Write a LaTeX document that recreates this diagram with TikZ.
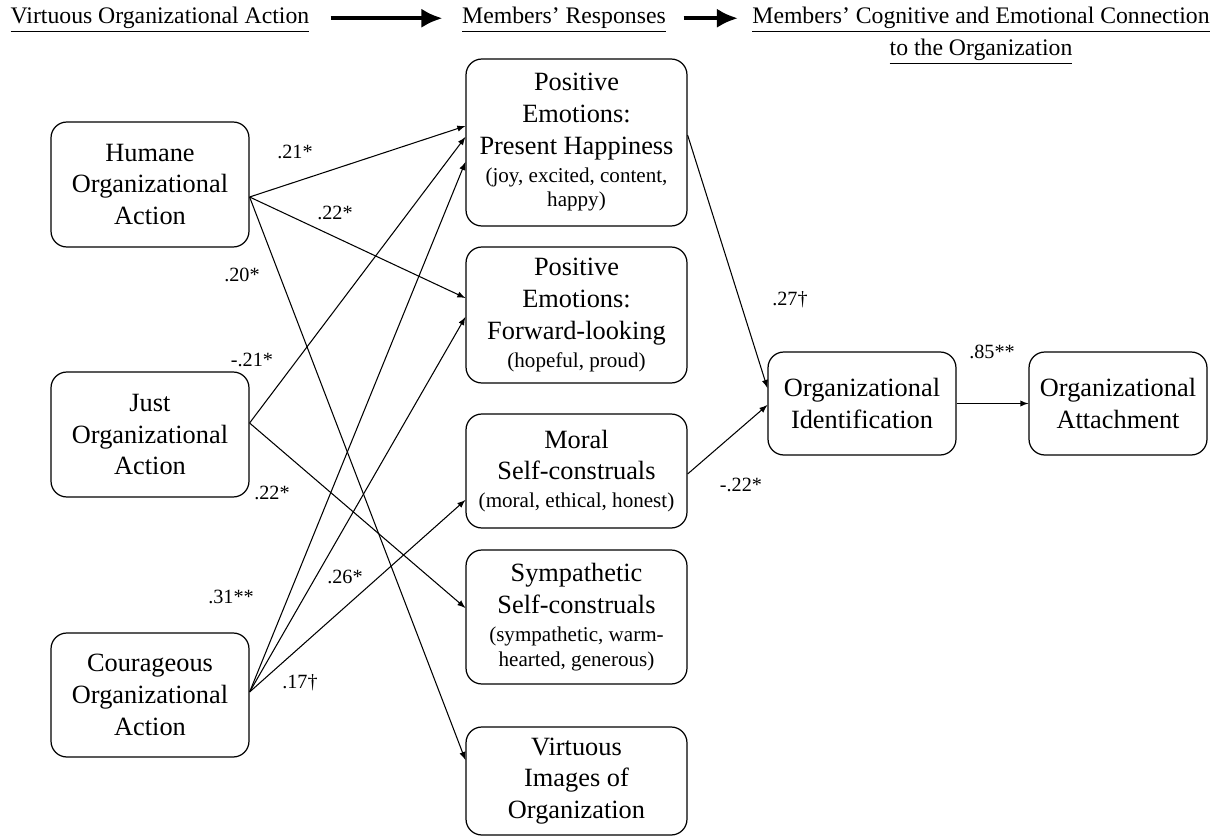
\documentclass[tikz,border=0pt]{standalone}
\usepackage{fontspec}
\setmainfont{Liberation Serif}
\usetikzlibrary{arrows, arrows.meta, positioning}

\newcommand{\sm}[1]{{\fontsize{12}{14}\selectfont #1}}

\begin{document}
\begin{tikzpicture}[>=latex, x=0.02cm, y=-0.02cm,
  box/.style={draw, rounded corners=9pt, line width=0.7pt, align=center, inner sep=2pt,
    font=\fontsize{15}{18}\selectfont},
  link/.style={->, line width=0.6pt},
  bigarrow/.style={-{Latex[length=12pt, width=11pt]}, line width=2.5pt},
  coef/.style={font=\fontsize{11.5}{13}\selectfont, inner sep=1pt},
  hdr/.style={font=\fontsize{13.5}{18}\selectfont, inner sep=2pt}]
\useasboundingbox (0,0) rectangle (1228,838);

% headings
\node[hdr] (hdrA) at (160,20) {\underline{Virtuous Organizational Action}};
\node[hdr] (hdrB) at (564,20) {\underline{Members' Responses}};
\node[hdr] (hdrC) at (981,20) {\underline{Members' Cognitive and Emotional Connection}};
\node[hdr] (hdrD) at (981,52) {\underline{to the Organization}};
\draw[bigarrow, shorten <=10pt, shorten >=9pt] ([yshift=1pt]hdrA.east) -- ([yshift=1pt]hdrB.west);
\draw[bigarrow, shorten <=8pt, shorten >=6pt] ([yshift=1pt]hdrB.east) -- ([yshift=1pt]hdrC.west);

% virtuous action
\node[box, minimum width=3.96cm, minimum height=2.5cm] (hum) at (150,184.5) {Humane\\Organizational\\Action};
\node[box, minimum width=3.96cm, minimum height=2.5cm] (just) at (150,434.5) {Just\\Organizational\\Action};
\node[box, minimum width=3.96cm, minimum height=2.48cm] (cour) at (150,695) {Courageous\\Organizational\\Action};

% members' responses
\node[box, minimum width=4.42cm, minimum height=3.34cm] (pe1) at (576.5,142.5)
  {Positive\\Emotions:\\Present Happiness\\[-2pt]\sm{(joy, excited, content,}\\[-4pt]\sm{happy)}};
\node[box, minimum width=4.42cm, minimum height=2.72cm] (pe2) at (576.5,315)
  {Positive\\Emotions:\\Forward-looking\\[-2pt]\sm{(hopeful, proud)}};
\node[box, minimum width=4.42cm, minimum height=2.28cm] (moral) at (576.5,471)
  {Moral\\Self-construals\\[-2pt]\sm{(moral, ethical, honest)}};
\node[box, minimum width=4.42cm, minimum height=2.68cm] (symp) at (576.5,617)
  {Sympathetic\\Self-construals\\[-2pt]\sm{(sympathetic, warm-}\\[-4pt]\sm{hearted, generous)}};
\node[box, minimum width=4.42cm, minimum height=2.16cm] (virt) at (576.5,781)
  {Virtuous\\Images of\\Organization};

% connection to the organization
\node[box, minimum width=3.76cm, minimum height=2.06cm] (orgid) at (862,403.5) {Organizational\\Identification};
\node[box, minimum width=3.56cm, minimum height=2.06cm] (attach) at (1118,403.5) {Organizational\\Attachment};

% paths
\draw[link] ([yshift=-0.25cm]hum.east) -- ([yshift=0.33cm]pe1.west);
\draw[link] ([yshift=-0.25cm]hum.east) -- ([yshift=0.34cm]pe2.west);
\draw[link] ([yshift=-0.25cm]hum.east) -- ([yshift=0.42cm]virt.west);
\draw[link] ([yshift=0.23cm]just.east) -- ([yshift=0.11cm]pe1.west);
\draw[link] ([yshift=0.23cm]just.east) -- ([yshift=0.18cm]symp.west);
\draw[link] ([yshift=0.06cm]cour.east) -- ([yshift=-0.39cm]pe1.west);
\draw[link] ([yshift=0.06cm]cour.east) -- ([yshift=-0.04cm]pe2.west);
\draw[link] ([yshift=0.06cm]cour.east) -- ([yshift=-0.58cm]moral.west);
\draw[link] ([yshift=0.15cm]pe1.east) -- ([yshift=0.31cm]orgid.west);
\draw[link] ([yshift=-0.06cm]moral.east) -- ([yshift=-0.03cm]orgid.west);
\draw[link] (orgid) -- (attach);

% coefficients
\node[coef] (cHP) at (295,152) {.21*};
\node[coef] (cHF) at (335,213) {.22*};
\node[coef] (cHV) at (242,275) {.20*};
\node[coef] (cJP) at (252,360) {-.21*};
\node[coef] (cJS) at (272,493) {.22*};
\node[coef] (cCP) at (231,597) {.31**};
\node[coef] (cCF) at (345,577) {.26*};
\node[coef] (cCM) at (300,683) {.17\textdagger};
\node[coef] (cPI) at (790,300) {.27\textdagger};
\node[coef] (cMI) at (741,485) {-.22*};
\node[coef] (cIA) at (992,352) {.85**};
\end{tikzpicture}
\end{document}
